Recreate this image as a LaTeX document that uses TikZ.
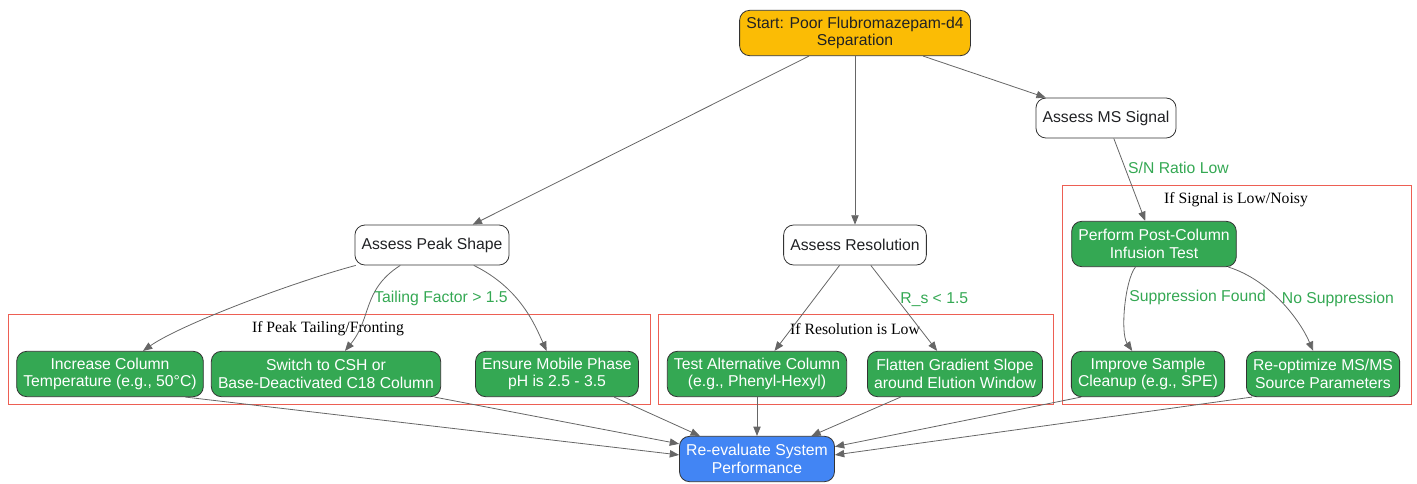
\documentclass[tikz,border=0pt]{standalone}
\usepackage{fontspec}
\setmainfont{Liberation Sans}
\newfontfamily\clusterfont{Liberation Serif}
\usetikzlibrary{arrows.meta}
\definecolor{startfill}{HTML}{FBBC05}
\definecolor{stepgreen}{HTML}{34A853}
\definecolor{finalblue}{HTML}{4285F4}
\definecolor{clusterred}{HTML}{EA4335}
\definecolor{edgegray}{HTML}{666666}
\definecolor{textdark}{HTML}{202124}

\begin{document}
\begin{tikzpicture}[x=0.75pt,y=-0.75pt,
    font=\fontsize{11.8}{13.2}\selectfont,
    box/.style={draw=black!80, line width=0.6pt, rounded corners=7.5pt,
        align=center, inner xsep=5pt, minimum height=30pt},
    startbox/.style={box, fill=startfill, text=textdark, minimum height=34pt},
    check/.style={box, fill=white, text=textdark},
    action/.style={box, fill=stepgreen, text=white, minimum height=34pt},
    final/.style={box, fill=finalblue, text=white, minimum height=34pt},
    edge/.style={draw=edgegray, line width=0.6pt, -{Triangle[length=7pt,width=5.5pt]}},
    lbl/.style={text=stepgreen, inner sep=2pt},
    cluster/.style={draw=clusterred!85, line width=0.6pt},
    clusterlbl/.style={font=\clusterfont\fontsize{11.8}{13}\selectfont, text=black, inner sep=0pt}]
    \useasboundingbox (0,0) rectangle (1417,483);

    \draw[cluster] (8,314) rectangle (650,404);
    \node[clusterlbl] (tailbox) at (328,329) {If Peak Tailing/Fronting};
    \draw[cluster] (658,314) rectangle (1053,404);
    \node[clusterlbl] (resbox) at (855,329) {If Resolution is Low};
    \draw[cluster] (1062,185) rectangle (1411,404);
    \node[clusterlbl] (sigbox) at (1236,200) {If Signal is Low/Noisy};

    \node[startbox] (start) at (855,33) {Start: Poor Flubromazepam-d4\\Separation};
    \node[check] (ms) at (1106,118) {Assess MS Signal};
    \node[check] (peak) at (432,245) {Assess Peak Shape};
    \node[check] (resol) at (855,245) {Assess Resolution};
    \node[action] (post) at (1154,244) {Perform Post-Column\\Infusion Test};
    \node[action] (inc) at (110,374) {Increase Column\\Temperature (e.g., 50°C)};
    \node[action] (csh) at (326,374) {Switch to CSH or\\Base-Deactivated C18 Column};
    \node[action] (mob) at (557,374) {Ensure Mobile Phase\\pH is 2.5 - 3.5};
    \node[action] (alt) at (757,374) {Test Alternative Column\\(e.g., Phenyl-Hexyl)};
    \node[action] (flat) at (955,374) {Flatten Gradient Slope\\around Elution Window};
    \node[action] (clean) at (1148,374) {Improve Sample\\Cleanup (e.g., SPE)};
    \node[action] (reopt) at (1323,374) {Re-optimize MS/MS\\Source Parameters};
    \node[final] (reeval) at (757,459) {Re-evaluate System\\Performance};

    \draw[edge] (start) -- (peak);
    \draw[edge] (start) -- (resol);
    \draw[edge] (start) -- (ms);
    \draw[edge] (ms) -- node[lbl, right, pos=0.36] {S/N Ratio Low} (post);
    \draw[edge] (peak) .. controls (290,283) and (180,325) .. (inc);
    \draw[edge] (peak) .. controls (362,290) and (372,318) .. node[lbl, right, pos=0.42] {Tailing Factor > 1.5} (csh);
    \draw[edge] (peak) .. controls (520,288) and (535,325) .. (mob);
    \draw[edge] (resol) -- (alt);
    \draw[edge] (resol) -- node[lbl, right, pos=0.4] {R\_s < 1.5} (flat);
    \draw[edge] (post) .. controls (1125,280) and (1120,333) .. node[lbl, right, pos=0.4] {Suppression Found} (clean);
    \draw[edge] (post) .. controls (1270,280) and (1300,320) .. node[lbl, right, pos=0.47] {No Suppression} (reopt);
    \draw[edge] (inc.-17) -- (reeval.177);
    \draw[edge] (csh.-12) -- (reeval.169);
    \draw[edge] (mob.-22) -- (reeval.158);
    \draw[edge] (alt) -- (reeval);
    \draw[edge] (flat.-157) -- (reeval.23);
    \draw[edge] (clean.199) -- (reeval.9);
    \draw[edge] (reopt.198) -- (reeval.3);
\end{tikzpicture}
\end{document}
